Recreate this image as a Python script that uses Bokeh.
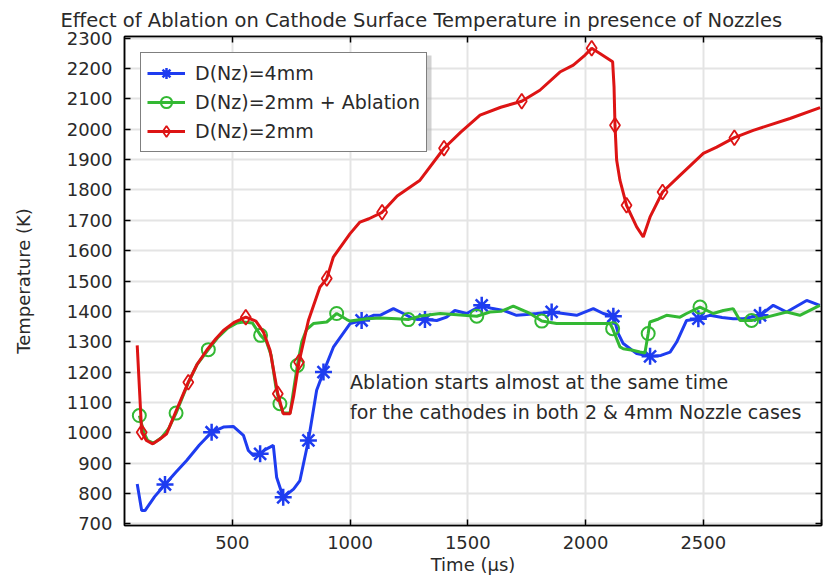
import numpy as np
from bokeh.plotting import figure
from bokeh.models import (Range1d, LinearAxis, FixedTicker, Legend, LegendItem, Label,
                          BoxAnnotation)
from bokeh.embed import file_html
from bokeh.resources import INLINE

# Cathode surface temperature (K) versus time (us)
red_t = [96, 115, 135, 162, 190, 221, 260, 313, 350, 391, 430, 462, 510, 557, 600, 632, 660,
         693, 716, 745, 760, 783, 823, 872, 901, 929, 1000, 1042, 1080, 1136, 1200, 1297, 1399,
         1470, 1552, 1640, 1729, 1806, 1891, 1948, 1998, 2026, 2061, 2115, 2121, 2125, 2132,
         2146, 2174, 2217, 2245, 2274, 2327, 2401, 2500, 2557, 2632, 2712, 2868, 2996]
red_T = [1288, 1002, 975, 964, 978, 997, 1070, 1167, 1225, 1272, 1310, 1337, 1365, 1381, 1368,
         1332, 1272, 1129, 1063, 1063, 1120, 1233, 1370, 1480, 1508, 1579, 1656, 1694, 1705,
         1726, 1780, 1832, 1937, 1990, 2046, 2072, 2092, 2128, 2188, 2211, 2244, 2266, 2249,
         2222, 2139, 2013, 1898, 1832, 1749, 1678, 1645, 1711, 1793, 1848, 1920, 1941, 1972,
         1996, 2035, 2071]
red_mark_t = [115, 313, 557, 693, 783, 901, 1136, 1399, 1729, 2026, 2125, 2174, 2327, 2632]
red_mark_T = [1002, 1167, 1381, 1129, 1233, 1508, 1726, 1937, 2092, 2266, 2013, 1749, 1793, 1972]

green_t = [105, 125, 140, 165, 200, 230, 261, 313, 350, 398, 440, 480, 520, 547, 585, 620, 645,
           665, 685, 702, 716, 745, 776, 795, 815, 844, 901, 943, 986, 1000, 1071, 1130, 1198,
           1247, 1300, 1382, 1440, 1538, 1594, 1640, 1693, 1764, 1814, 1877, 2000, 2104, 2115,
           2146, 2160, 2200, 2231, 2252, 2266, 2273, 2310, 2344, 2401, 2429, 2486, 2542, 2585,
           2627, 2656, 2705, 2769, 2854, 2910, 2995]
green_T = [1057, 1000, 975, 966, 985, 1015, 1065, 1165, 1225, 1274, 1315, 1345, 1362, 1365, 1362,
           1321, 1300, 1255, 1150, 1096, 1065, 1065, 1222, 1300, 1340, 1360, 1365, 1393, 1373,
           1368, 1376, 1378, 1376, 1373, 1385, 1393, 1390, 1384, 1398, 1400, 1417, 1393, 1368,
           1360, 1360, 1360, 1343, 1283, 1277, 1272, 1266, 1263, 1327, 1365, 1375, 1387, 1381,
           1393, 1414, 1393, 1403, 1409, 1370, 1370, 1381, 1398, 1387, 1420]
green_mark_t = [105, 261, 398, 620, 702, 776, 943, 1247, 1538, 1814, 2115, 2266, 2486, 2705]
green_mark_T = [1057, 1065, 1274, 1321, 1096, 1222, 1393, 1373, 1384, 1368, 1343, 1327, 1414, 1370]

blue_t = [96, 115, 129, 170, 214, 260, 306, 360, 412, 462, 504, 547, 568, 590, 618, 640, 660,
          674, 688, 716, 760, 787, 823, 858, 887, 929, 1000, 1049, 1099, 1127, 1184, 1226, 1270,
          1318, 1368, 1410, 1445, 1495, 1559, 1600, 1651, 1707, 1750, 1792, 1856, 1905, 1962,
          2033, 2075, 2118, 2139, 2160, 2217, 2274, 2320, 2359, 2387, 2429, 2479, 2528, 2580,
          2627, 2670, 2741, 2797, 2854, 2939, 2995]
blue_T = [832, 744, 744, 790, 830, 870, 909, 960, 1002, 1019, 1021, 992, 942, 925, 931, 945, 953,
          959, 854, 788, 815, 843, 975, 1140, 1200, 1282, 1360, 1370, 1387, 1387, 1409, 1393,
          1375, 1373, 1370, 1381, 1403, 1393, 1420, 1410, 1403, 1387, 1390, 1393, 1398, 1393,
          1387, 1409, 1393, 1384, 1327, 1294, 1261, 1252, 1255, 1266, 1299, 1370, 1376, 1387,
          1380, 1376, 1376, 1387, 1420, 1398, 1436, 1420]
blue_mark_t = [214, 412, 618, 716, 823, 887, 1049, 1318, 1559, 1856, 2118, 2274, 2479, 2741]
blue_mark_T = [830, 1002, 931, 788, 975, 1200, 1370, 1373, 1420, 1398, 1384, 1252, 1376, 1387]

x_ticks = [500, 1000, 1500, 2000, 2500, 3000]
x_tick_labels = ["500", "1000", "1500", "2000", "2500", ""]
y_ticks = list(range(700, 2301, 100))

FONT = "DejaVu Sans"
TXT = "#2a2a2a"
BLUE, GREEN, RED = "#1e3cf0", "#33b833", "#dd1414"

FRAME_H = 489          # plot area height in px (578 - 36 - 53)
LEG_MARGIN = 16
LEG_W, LEG_H = 288, 95  # legend box size in px

p = figure(width=826, height=578, output_backend="svg", toolbar_location=None,
           x_range=Range1d(42, 3002), y_range=Range1d(695, 2305),
           min_border_left=124, min_border_right=5, min_border_top=36, min_border_bottom=53,
           background_fill_color="white", border_fill_color="white")

p.title.text = "Effect of Ablation on Cathode Surface Temperature in presence of Nozzles"
p.title.text_font = FONT
p.title.text_font_size = "19.5px"
p.title.text_font_style = "normal"
p.title.text_color = TXT
p.title.align = "left"
p.title.offset = -64
p.title.standoff = 9

p.outline_line_color = "black"
p.outline_line_width = 1.5

for ax in (p.xaxis[0], p.yaxis[0]):
    ax.major_tick_in = 6
    ax.major_tick_out = 0
    ax.minor_tick_line_color = None
    ax.axis_line_width = 1.5
    ax.major_tick_line_width = 1.5
    ax.major_label_text_font = FONT
    ax.major_label_text_font_size = "18px"
    ax.major_label_text_color = TXT
    ax.axis_label_text_font = FONT
    ax.axis_label_text_font_size = "18px"
    ax.axis_label_text_font_style = "normal"
    ax.axis_label_text_color = TXT

p.xaxis.ticker = FixedTicker(ticks=x_ticks)
p.xaxis.major_label_overrides = dict(zip(x_ticks, x_tick_labels))
p.yaxis.ticker = FixedTicker(ticks=y_ticks)
p.xaxis.axis_label = "Time (µs)"
p.yaxis.axis_label = "Temperature (K)"
p.xaxis.major_label_standoff = 10
p.xaxis.axis_label_standoff = 2
p.yaxis.major_label_standoff = 12
p.yaxis.axis_label_standoff = 30

# tick marks on the opposite sides of the box, no labels there
top_ax = LinearAxis(ticker=FixedTicker(ticks=x_ticks),
                    major_label_overrides={t: "" for t in x_ticks},
                    major_label_text_font_size="1px",
                    major_label_standoff=0, major_tick_in=6, major_tick_out=0,
                    minor_tick_line_color=None, axis_line_width=1.5, major_tick_line_width=1.5)
right_ax = LinearAxis(ticker=FixedTicker(ticks=y_ticks),
                      major_label_overrides={t: "" for t in y_ticks},
                      major_label_text_font_size="1px",
                      major_label_standoff=0, major_tick_in=6, major_tick_out=0,
                      minor_tick_line_color=None, axis_line_width=1.5, major_tick_line_width=1.5)
p.add_layout(top_ax, "above")
p.add_layout(right_ax, "right")

p.xgrid.grid_line_color = "#e4e4e4"
p.ygrid.grid_line_color = "#e4e4e4"
p.xgrid.grid_line_width = 2
p.ygrid.grid_line_width = 2

# curves
b_line = p.line(blue_t, blue_T, line_color=BLUE, line_width=3)
b_mark = p.scatter(blue_mark_t, blue_mark_T, marker="asterisk", size=17,
                   line_color=BLUE, line_width=2.5)
g_line = p.line(green_t, green_T, line_color=GREEN, line_width=3)
g_mark = p.scatter(green_mark_t, green_mark_T, marker="circle", size=13,
                   line_color=GREEN, line_width=2, fill_color=None)
r_line = p.line(red_t, red_T, line_color=RED, line_width=3)
r_mark = p.scatter(red_mark_t, red_mark_T, marker="diamond", size=15,
                   line_color=RED, line_width=1.8, fill_color=None)

labels = ["D(Nz)=4mm", "D(Nz)=2mm + Ablation", "D(Nz)=2mm"]
groups = [[b_line, b_mark], [g_line, g_mark], [r_line, r_mark]]

# soft drop shadow behind the legend box (frame-relative screen units)
shadow = BoxAnnotation(left=LEG_MARGIN + 3, right=LEG_MARGIN + 3 + LEG_W,
                       top=FRAME_H - LEG_MARGIN - 3, bottom=FRAME_H - LEG_MARGIN - 3 - LEG_H,
                       left_units="screen", right_units="screen",
                       top_units="screen", bottom_units="screen",
                       fill_color="#b4b4b4", fill_alpha=0.6, line_color=None)
p.add_layout(shadow)

legend = Legend(items=[LegendItem(label=l, renderers=r) for l, r in zip(labels, groups)],
                location="top_left", margin=LEG_MARGIN,
                label_text_font=FONT, label_text_font_size="19px", label_text_color=TXT,
                glyph_width=38, glyph_height=28, label_standoff=10, label_height=20,
                padding=6, spacing=1,
                border_line_color="black", border_line_width=1.5,
                background_fill_color="white", background_fill_alpha=1)
p.add_layout(legend, "center")

for txt, yv in (("Ablation starts almost at the same time", 1166),
                ("for the cathodes in both 2 & 4mm Nozzle cases", 1070)):
    p.add_layout(Label(x=1000, y=yv, text=txt, text_font=FONT, text_font_size="19px",
                       text_color=TXT, text_baseline="middle"))

open("out.html", "w").write(file_html(p, INLINE))
